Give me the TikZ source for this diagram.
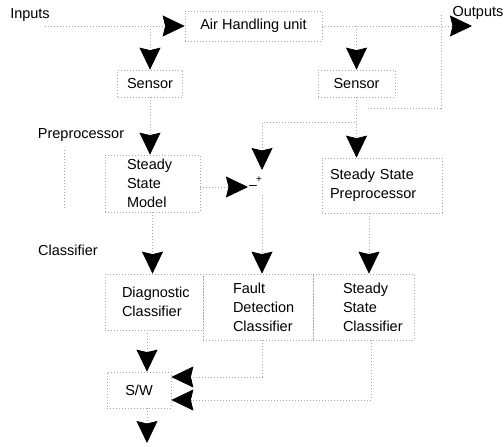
\documentclass[tikz,border=0pt]{standalone}
\usepackage{fontspec}
\setmainfont{Liberation Sans}
\usetikzlibrary{arrows.meta}
\begin{document}
\begin{tikzpicture}[x=1pt,y=-1pt,
  font=\fontsize{14.5}{19}\selectfont,
  faint/.style={draw=black!35, line width=0.7pt, dash pattern=on 1pt off 2pt},
  box/.style={faint, rectangle, inner ysep=0pt, align=left},
  conn/.style={faint, -{Stealth[length=22pt,width=21pt,inset=2.5pt,color=black,fill=black]}},
  lbl/.style={inner sep=0pt}]
\useasboundingbox (0,0) rectangle (504,447);

% labels
\node[lbl] (inputs) at (30,15) {Inputs};
\node[lbl] (outputs) at (478,13) {Outputs};
\node[lbl] (pre) at (81,135) {Preprocessor};
\node[lbl] (cls) at (68,250) {Classifier};

% boxes
\node[box, minimum width=137pt, minimum height=30pt] (ahu) at (253.5,26) {Air Handling unit};
\node[box, minimum width=65pt, minimum height=27pt] (sensL) at (150,83.5) {Sensor};
\node[box, minimum width=77pt, minimum height=27pt] (sensR) at (356.5,83.5) {Sensor};
\node[box, minimum height=57pt, inner xsep=22pt, text width=51pt] (model) at (152.5,183.5) {Steady\\State\\Model};
\node[box, minimum height=55pt, inner xsep=8pt, text width=104pt] (ssp) at (382,185.5) {Steady State\\Preprocessor};
\node[box, minimum height=56pt, inner xsep=17pt, text width=64pt] (diag) at (154,302) {Diagnostic\\Classifier};
\node[box, minimum height=66pt, inner xsep=30pt, text width=50pt] (fault) at (258,307) {Fault\\Detection\\Classifier};
\node[box, minimum height=66pt, inner xsep=30pt, text width=41pt] (ssc) at (363.5,307) {Steady\\State\\Classifier};
\node[box, minimum width=64pt, minimum height=36pt] (sw) at (139,390) {S/W};

% comparator
\node[lbl, font=\fontsize{10}{10}\selectfont] (plus) at (259,180) {+};
\node[lbl, font=\fontsize{14}{14}\selectfont] (minus) at (253,187) {–};
\coordinate (cmpL) at (248,187);
\coordinate (cmpT) at (262,170);
\coordinate (cmpB) at (262,195);

% free ends
\coordinate (inTail) at (45,26);
\coordinate (outTip) at (472,26);
\coordinate (sspOut) at ([xshift=-13pt]ssp.south);
\coordinate (diagOut) at ([xshift=-7pt]diag.south);
\coordinate (fOut) at ([xshift=4pt]fault.south);
\coordinate (sOut) at ([xshift=8pt]ssc.south);
\coordinate (swOut) at (147,443);

% connectors
\draw[conn] (inTail) -- (ahu.west);
\draw[conn] (ahu.west -| sensL.north) -- (sensL.north);
\draw[conn] (ahu.east) -- (outTip);
\draw[conn] (ahu.east -| sensR.north) -- (sensR.north);
\draw[conn] (sensL.south) -- (sensL.south |- model.north);
\draw[conn] (sensR.south) -- (sensR.south |- ssp.north);
\draw[conn] (sensR.south) -- ++(0,25) -| (cmpT);
\draw[conn] (model.east |- cmpL) -- (cmpL);
\draw[conn] (model.south) -- (model.south |- diag.north);
\draw[conn] (cmpB) -- (cmpB |- fault.north);
\draw[conn] (sspOut) -- (sspOut |- ssc.north);
\draw[conn] (diagOut) -- (diagOut |- sw.north);
\draw[conn] (fOut) |- ([yshift=13pt]sw.east);
\draw[conn] (sOut) |- ([yshift=-10pt]sw.east);
\draw[conn] (swOut |- sw.south) -- (swOut);

% faint remnants
\draw[faint] (441,15) -- (441,108) -- (367,108);
\draw[faint] (64,150) -- (64,210);
\end{tikzpicture}
\end{document}
